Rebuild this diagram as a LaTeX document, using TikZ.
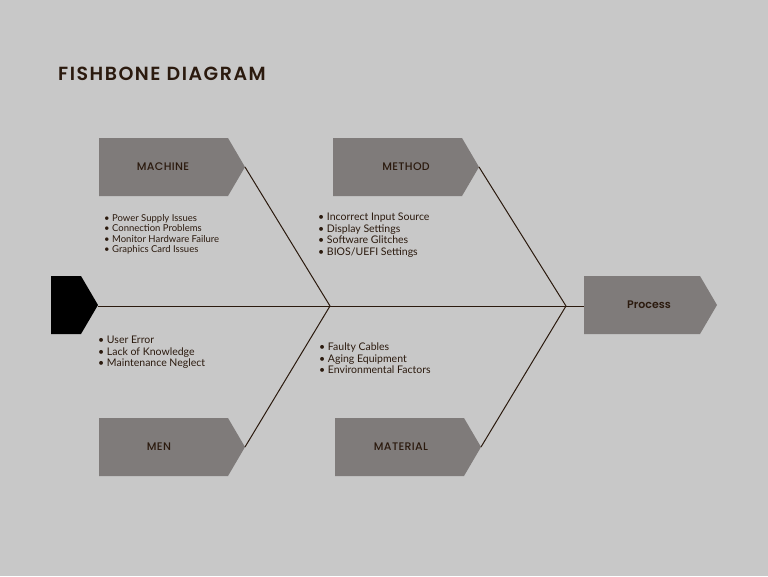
\documentclass[tikz,border=0pt]{standalone}
\usepackage{fontspec}
\setmainfont{Lato}
\newfontfamily\titlefont[LetterSpace=8]{Poppins SemiBold}
\newfontfamily\boxfont[LetterSpace=3]{Poppins Medium}
\begin{document}
\begin{tikzpicture}[x=1pt,y=-1pt]
\definecolor{bg}{HTML}{C8C8C8}
\definecolor{boxc}{HTML}{7F7B7A}
\definecolor{txt}{HTML}{2B1A0E}
\tikzset{lbl/.style={font=\boxfont\fontsize{11}{13}\selectfont,text=txt},
 lst/.style={font=\fontsize{10.5}{11.5}\selectfont,text=txt,align=left,anchor=north west,inner sep=0pt},
 bone/.style={draw=txt,line width=1pt},
 pb/.style={fill=boxc}}
\fill[bg] (0,0) rectangle (768,576);
\node[anchor=west,font=\titlefont\fontsize{19}{22}\selectfont,text=txt,inner sep=0pt] (title) at (58,74) {FISHBONE DIAGRAM};
\fill[pb] (99,138) -- (228,138) -- (245,167) -- (228,196) -- (99,196) -- cycle;
\fill[pb] (333,138) -- (462,138) -- (479,167) -- (462,196) -- (333,196) -- cycle;
\fill[pb] (99,418) -- (228,418) -- (245,447) -- (228,476) -- (99,476) -- cycle;
\fill[pb] (335,418) -- (464,418) -- (481,447) -- (464,476) -- (335,476) -- cycle;
\fill[pb] (584,276) -- (700,276) -- (717,305) -- (700,334) -- (584,334) -- cycle;
\fill[black] (51,276) -- (81,276) -- (98,305) -- (81,334) -- (51,334) -- cycle;
\coordinate (machine) at (245,167);
\coordinate (method) at (479,167);
\coordinate (men) at (245,447);
\coordinate (material) at (481,447);
\coordinate (proc) at (584,306);
\coordinate (head) at (98,306);
\coordinate (j1) at (330,306);
\coordinate (j2) at (566,306);
\node[lbl] (lm) at (163,167) {MACHINE};
\node[lbl] (lme) at (406,167) {METHOD};
\node[lbl] (lmen) at (159,447) {MEN};
\node[lbl] (lmat) at (401,447) {MATERIAL};
\node[font=\fontspec{Poppins SemiBold}\fontsize{11}{13}\selectfont,text=txt] (lp) at (649,305) {Process};
\draw[bone] (head) -- (proc);
\draw[bone] (machine) -- (j1);
\draw[bone] (men) -- (j1);
\draw[bone] (method) -- (j2);
\draw[bone] (material) -- (j2);
\node[lst,font=\fontsize{9.5}{10.5}\selectfont] (t1) at (104,214) {• Power Supply Issues\\• Connection Problems\\• Monitor Hardware Failure\\• Graphics Card Issues};
\node[lst] (t2) at (318,213) {• Incorrect Input Source\\• Display Settings\\• Software Glitches\\• BIOS/UEFI Settings};
\node[lst] (t3) at (98,336) {• User Error\\• Lack of Knowledge\\• Maintenance Neglect};
\node[lst] (t4) at (319,343) {• Faulty Cables\\• Aging Equipment\\• Environmental Factors};
\end{tikzpicture}
\end{document}
